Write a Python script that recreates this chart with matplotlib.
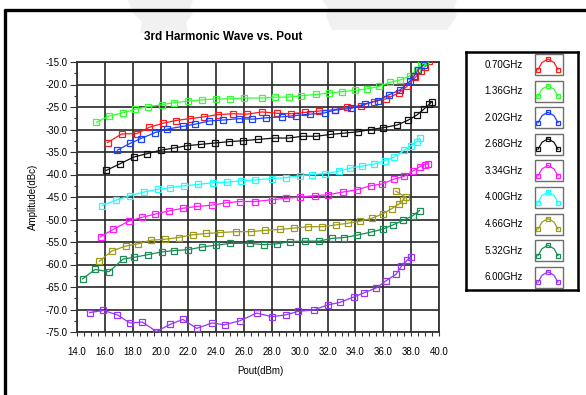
import matplotlib
matplotlib.use("Agg")
import matplotlib.pyplot as plt
from matplotlib.patches import Rectangle, Polygon
from matplotlib.lines import Line2D
from matplotlib.ticker import MultipleLocator, FormatStrFormatter

plt.rcParams['font.family'] = ['Liberation Sans', 'DejaVu Sans']

W, H = 586, 395

# ---------------- data ----------------
series_labels = ["0.70GHz", "1.36GHz", "2.02GHz", "2.68GHz", "3.34GHz",
                 "4.00GHz", "4.66GHz", "5.32GHz", "6.00GHz"]
series_colors = ["#ff1a1a", "#33ff33", "#1a40ff", "#111111", "#ff1aff",
                 "#1affff", "#9c9c1a", "#1a8c55", "#9933ff"]

pout_070 = [16.2, 17.2, 18.3, 19.2, 20.2, 21.1, 22.1, 23.1, 24.1, 25.2, 26.2, 27.3, 28.4, 29.4,
            30.4, 31.4, 32.5, 33.4, 34.4, 35.3, 36.2, 37.1, 37.7, 38.3, 38.7, 39.0, 39.3]
amp_070 = [-32.9, -31.0, -30.9, -29.5, -28.6, -28.0, -27.6, -27.2, -26.7, -26.5, -26.6, -26.1, -26.4, -26.5,
           -26.2, -25.9, -25.6, -25.1, -24.7, -23.8, -23.2, -21.9, -20.4, -18.4, -17.1, -16.0, -14.8]

pout_136 = [15.4, 16.3, 17.3, 18.2, 19.1, 20.1, 21.0, 22.0, 23.0, 24.0, 25.0, 26.0, 27.3, 28.2,
            29.2, 30.1, 31.2, 32.1, 33.0, 34.0, 34.8, 35.7, 36.5, 37.2, 37.9, 38.4, 38.7, 39.0]
amp_136 = [-28.4, -27.0, -26.3, -25.5, -24.9, -24.5, -24.0, -23.7, -23.4, -23.2, -23.2, -23.0, -23.0, -22.8,
           -22.8, -22.5, -22.2, -21.9, -21.6, -21.3, -21.0, -20.4, -19.5, -19.0, -18.1, -16.7, -15.4, -14.7]

pout_202 = [16.9, 17.8, 18.6, 19.6, 20.5, 21.6, 22.5, 23.5, 24.5, 25.6, 26.6, 27.6, 28.7, 29.7,
            30.7, 31.8, 32.5, 33.7, 34.7, 35.6, 36.4, 37.2, 37.9, 38.2, 38.5, 38.9]
amp_202 = [-34.6, -33.1, -32.0, -30.7, -29.9, -29.3, -28.8, -28.1, -27.9, -27.6, -27.7, -27.4, -27.2, -26.9,
           -26.6, -26.3, -25.7, -25.3, -24.3, -23.6, -22.3, -21.2, -19.3, -18.2, -16.7, -15.6]

pout_268 = [16.1, 17.1, 18.1, 19.0, 20.0, 21.0, 21.9, 22.9, 23.9, 24.9, 25.9, 27.0, 28.2, 29.2,
            30.2, 31.2, 32.2, 33.2, 34.2, 35.1, 36.0, 37.0, 37.8, 38.4, 38.9, 39.3, 39.5]
amp_268 = [-39.1, -37.6, -36.1, -35.4, -34.6, -34.1, -33.6, -33.3, -33.0, -32.7, -32.5, -32.2, -31.9, -31.9,
           -31.5, -31.5, -31.1, -30.8, -30.5, -30.0, -29.6, -29.0, -27.9, -26.8, -25.5, -24.4, -23.8]

pout_334 = [15.7, 16.6, 17.7, 18.7, 19.6, 20.6, 21.6, 22.6, 23.7, 24.7, 25.7, 26.8, 28.0, 29.0,
            30.0, 31.1, 32.0, 33.1, 34.1, 35.1, 35.9, 36.8, 37.5, 38.1, 38.6, 39.0, 39.2]
amp_334 = [-53.8, -52.2, -50.4, -49.5, -48.8, -48.1, -47.5, -47.1, -46.8, -46.3, -46.0, -46.0, -45.6, -45.3,
           -45.0, -44.7, -44.5, -43.9, -43.4, -42.5, -42.1, -41.0, -40.4, -39.3, -38.3, -37.8, -37.6]

pout_400 = [15.8, 16.8, 17.8, 18.8, 19.8, 20.7, 21.7, 22.7, 23.8, 24.8, 25.8, 26.8, 28.0, 29.0,
            30.0, 30.9, 31.8, 32.8, 33.6, 34.5, 35.3, 36.1, 36.8, 37.5, 38.0, 38.4, 38.6]
amp_400 = [-46.9, -45.7, -44.7, -43.9, -43.3, -42.9, -42.5, -42.2, -41.8, -41.7, -41.4, -41.2, -40.9, -40.7,
           -40.3, -40.0, -39.8, -39.3, -38.6, -38.1, -37.7, -36.9, -36.1, -34.6, -33.6, -32.7, -31.9]

pout_466 = [15.6, 16.5, 17.5, 18.4, 19.3, 20.3, 21.3, 22.3, 23.3, 24.3, 25.4, 26.5, 27.5, 28.6,
            29.6, 30.6, 31.6, 32.6, 33.5, 34.3, 35.2, 36.0, 36.6, 37.1, 37.4, 37.6, 36.9]
amp_466 = [-59.3, -57.0, -55.9, -55.4, -54.6, -54.4, -54.0, -53.4, -53.1, -52.9, -52.7, -52.7, -52.4, -52.2,
           -51.9, -51.6, -51.6, -51.2, -50.8, -50.4, -49.7, -48.7, -47.6, -46.6, -45.7, -45.0, -43.7]

pout_532 = [14.4, 15.3, 16.3, 17.3, 18.1, 19.1, 20.1, 21.0, 22.0, 23.0, 24.0, 25.0, 26.4, 27.4,
            28.4, 29.3, 30.4, 31.4, 32.3, 33.2, 34.1, 35.1, 36.0, 36.7, 37.4, 38.1, 38.6]
amp_532 = [-63.2, -61.1, -61.6, -58.8, -58.4, -57.8, -57.2, -56.9, -56.7, -56.1, -55.7, -55.3, -55.3, -55.6,
           -55.4, -54.9, -54.8, -54.8, -54.2, -54.0, -53.5, -52.8, -52.1, -51.2, -50.2, -49.2, -48.0]

pout_600 = [14.9, 15.9, 16.9, 17.8, 18.7, 19.7, 20.7, 21.6, 22.6, 23.7, 24.6, 25.7, 26.9, 28.0,
            29.0, 29.9, 31.0, 32.0, 32.9, 33.9, 34.6, 35.5, 36.2, 36.9, 37.3, 37.7, 38.0]
amp_600 = [-70.7, -70.2, -71.2, -73.0, -72.8, -74.9, -73.3, -72.2, -74.2, -73.0, -73.4, -72.5, -70.8, -71.6,
           -71.2, -70.4, -70.1, -69.0, -68.4, -67.2, -66.3, -65.2, -63.6, -62.2, -60.4, -59.1, -58.4]

pouts = [pout_070, pout_136, pout_202, pout_268, pout_334, pout_400, pout_466, pout_532, pout_600]
amps = [amp_070, amp_136, amp_202, amp_268, amp_334, amp_400, amp_466, amp_532, amp_600]

title_text = "3rd Harmonic Wave vs. Pout"
xlabel_text = "Pout(dBm)"
ylabel_text = "Amplitude(dBc)"

# ---------------- figure ----------------
fig = plt.figure(figsize=(W / 100, H / 100), dpi=100)
fig.patch.set_facecolor("white")


def fx(x):
    return x / W


def fy(y):
    return 1 - y / H


# faint watermark shapes at top
wm1 = [(128, 0), (193, 0), (190, 8), (193, 14), (186, 22), (188, 33), (140, 33), (142, 22), (134, 14), (131, 8)]
wm2 = [(322, 0), (457, 0), (454, 8), (457, 16), (447, 30), (332, 30), (326, 16), (328, 8)]
for wm in (wm1, wm2):
    fig.patches.append(Polygon([(fx(a), fy(b)) for a, b in wm], closed=True,
                               transform=fig.transFigure, facecolor="#f1f1f1",
                               edgecolor="none", zorder=0))

# outer frame (left and top)
fig.add_artist(Line2D([fx(5), fx(5)], [fy(9), fy(H + 5)], transform=fig.transFigure,
                      color="black", lw=2.4, solid_capstyle="butt"))
fig.add_artist(Line2D([fx(3.8), fx(W + 5)], [fy(10), fy(10)], transform=fig.transFigure,
                      color="black", lw=2.4, solid_capstyle="butt"))

# main axes
ax_l, ax_r, ax_t, ax_b = 77, 439, 62, 332
ax = fig.add_axes([fx(ax_l), fy(ax_b), fx(ax_r - ax_l), (ax_b - ax_t) / H])
ax.set_xlim(14, 40)
ax.set_ylim(-75, -15)

for xs, ys, c in zip(pouts, amps, series_colors):
    ax.plot(xs, ys, color=c, lw=0.9, marker="s", ms=4.4, mfc="none", mec=c, mew=0.9,
            zorder=3)

ax.xaxis.set_major_locator(MultipleLocator(2))
ax.xaxis.set_minor_locator(MultipleLocator(0.5))
ax.yaxis.set_major_locator(MultipleLocator(5))
ax.yaxis.set_minor_locator(MultipleLocator(2.5))
ax.xaxis.set_major_formatter(FormatStrFormatter("%.1f"))
ax.yaxis.set_major_formatter(FormatStrFormatter("%.1f"))

ax.grid(True, which="major", color="#262626", lw=1.2, zorder=1)
for s in ax.spines.values():
    s.set_color("#333333")
    s.set_linewidth(1.3)

ax.tick_params(axis="x", which="both", direction="out", length=2.6, width=0.8,
               color="#333333", labelsize=7, pad=8.5)
ax.tick_params(axis="y", which="major", direction="out", length=5.2, width=0.8,
               color="#333333", labelsize=7, pad=1.5)
ax.tick_params(axis="y", which="minor", direction="out", length=2.0, width=0.8,
               color="#333333")

# titles / labels
fig.text(fx(223), fy(37), title_text, ha="center", va="center", fontsize=8.5,
         fontweight="bold")
fig.text(fx(260), fy(371), xlabel_text, ha="center", va="center", fontsize=7)
fig.text(fx(33), fy(197), ylabel_text, ha="center", va="center", fontsize=7,
         rotation=90)

# legend panel
lg_l, lg_r, lg_t, lg_b = 466, 578, 52, 290
lax = fig.add_axes([fx(lg_l), fy(lg_b), fx(lg_r - lg_l), (lg_b - lg_t) / H])
lax.set_xlim(lg_l, lg_r)
lax.set_ylim(lg_b, lg_t)
lax.set_xticks([])
lax.set_yticks([])
for s in lax.spines.values():
    s.set_linewidth(1.8)
    s.set_color("black")

for i, (lab, c) in enumerate(zip(series_labels, series_colors)):
    cy = 64.5 + 26.6 * i
    lax.text(523, cy, lab, ha="right", va="center", fontsize=7)
    lax.add_patch(Rectangle((535, cy - 10.5), 28, 21, facecolor="white",
                            edgecolor="#6e6e6e", lw=1.0))
    ix = [538, 542, 548, 554, 558]
    iy = [cy + 5, cy - 2, cy - 5.5, cy - 2, cy + 5]
    lax.plot(ix, iy, color=c, lw=0.9, marker="s", ms=3.4, mfc="none", mec=c,
             mew=0.9, markevery=[0, 2, 4])

fig.savefig("out.png", dpi=100, facecolor="white")
